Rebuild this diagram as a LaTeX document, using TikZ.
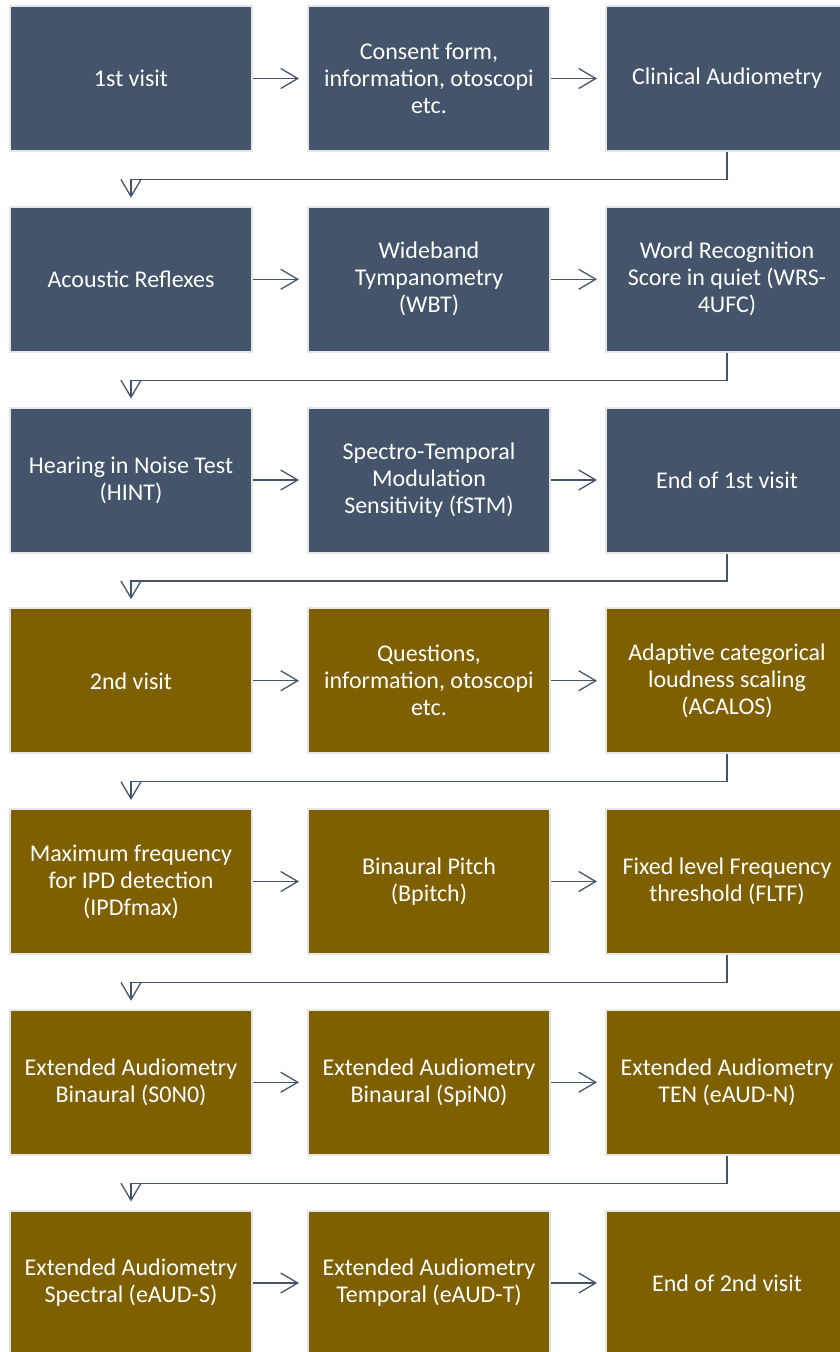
\documentclass[tikz,border=0pt]{standalone}
\usepackage{fontspec}
\setmainfont{Carlito}
\usetikzlibrary{arrows.meta}
\definecolor{slate}{HTML}{44546A}
\definecolor{olive}{HTML}{7F6000}
\definecolor{rim}{HTML}{E6E6E6}
\tikzset{
  box/.style={draw=rim, line width=2pt, minimum width=242pt, minimum height=145pt,
    inner sep=0pt, align=center, text=white, font=\fontsize{24}{27}\selectfont},
  bluebox/.style={box, fill=slate},
  brownbox/.style={box, fill=olive},
  arr/.style={draw=slate, line width=1.3pt, -{Straight Barb[length=17pt,width=20pt,line width=1.3pt]}, shorten >=8pt},
}
\begin{document}
\begin{tikzpicture}[x=1pt,y=-1pt]
\useasboundingbox (0,0) rectangle (840,1352);
% row 1
\node[bluebox] (n11) at (131,78.5) {1st visit};
\node[bluebox] (n12) at (429,78.5) {Consent form,\\information, otoscopi\\etc.};
\node[bluebox] (n13) at (727,78.5) {Clinical Audiometry};
% row 2
\node[bluebox] (n21) at (131,279.25) {Acoustic Reflexes};
\node[bluebox] (n22) at (429,279.25) {Wideband\\Tympanometry\\(WBT)};
\node[bluebox] (n23) at (727,279.25) {Word Recognition\\Score in quiet (WRS-\\4UFC)};
% row 3
\node[bluebox] (n31) at (131,480) {Hearing in Noise Test\\(HINT)};
\node[bluebox] (n32) at (429,480) {Spectro-Temporal\\Modulation\\Sensitivity (fSTM)};
\node[bluebox] (n33) at (727,480) {End of 1st visit};
% row 4
\node[brownbox] (n41) at (131,680.75) {2nd visit};
\node[brownbox] (n42) at (429,680.75) {Questions,\\information, otoscopi\\etc.};
\node[brownbox] (n43) at (727,680.75) {Adaptive categorical\\loudness scaling\\(ACALOS)};
% row 5
\node[brownbox] (n51) at (131,881.5) {Maximum frequency\\for IPD detection\\(IPDfmax)};
\node[brownbox] (n52) at (429,881.5) {Binaural Pitch\\(Bpitch)};
\node[brownbox] (n53) at (727,881.5) {Fixed level Frequency\\threshold (FLTF)};
% row 6
\node[brownbox] (n61) at (131,1082.25) {Extended Audiometry\\Binaural (S0N0)};
\node[brownbox] (n62) at (429,1082.25) {Extended Audiometry\\Binaural (SpiN0)};
\node[brownbox] (n63) at (727,1082.25) {Extended Audiometry\\TEN (eAUD-N)};
% row 7
\node[brownbox] (n71) at (131,1283) {Extended Audiometry\\Spectral (eAUD-S)};
\node[brownbox] (n72) at (429,1283) {Extended Audiometry\\Temporal (eAUD-T)};
\node[brownbox] (n73) at (727,1283) {End of 2nd visit};
% horizontal arrows
\foreach \r in {1,...,7}{
  \draw[arr] (n\r1.east) -- (n\r2.west);
  \draw[arr] (n\r2.east) -- (n\r3.west);
}
% row-to-row connectors
\foreach \r/\s in {1/2,2/3,3/4,4/5,5/6,6/7}{
  \draw[arr] (n\r3.south) -- ++(0,27.5) -| (n\s1.north);
}
\end{tikzpicture}
\end{document}
